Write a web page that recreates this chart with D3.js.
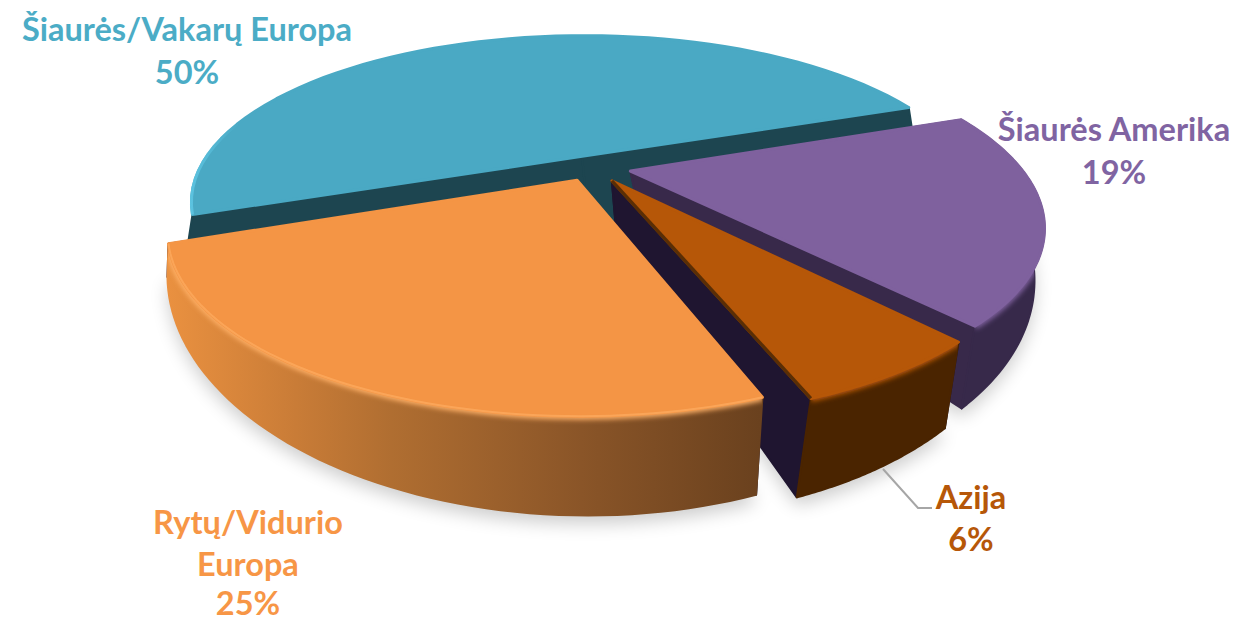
<!DOCTYPE html>
<html>
<head>
<meta charset="utf-8">
<title>Pie</title>
<script src="https://cdn.jsdelivr.net/npm/d3@7"></script>
<style>
  html, body { margin: 0; padding: 0; background: #fff; }
  svg { display: block; }
  text { font-family: Lato, "Open Sans", sans-serif; font-weight: 700; font-size: 32.5px; text-anchor: middle; }
</style>
</head>
<body>
<script>
//chart data, clockwise from the purple slice
var categories = ["Šiaurės Amerika", "Azija", "Rytų/Vidurio Europa", "Šiaurės/Vakarų Europa"];
var shares = [19, 6, 25, 50];
var shareLabels = ["19%", "6%", "25%", "50%"];

var width = 1237, height = 621;

//perspective view of the disc: one plane for the top face, one for the bottom face
var topView = [410.8, -59.4, 591.7, -30.7, 108.7, 167.0, 0.0658, -0.2748];
var botView = [424.9, -77.3, 598.5, -22.3, 147.5, 193.0, 0.0871, -0.2784];
var firstAngle = 84.97 * Math.PI / 180;
var pull = [0.1023, 0.0981, 0.0895, 0.0723];
var tipDrop = [0, 34, 0, 60];
var botShift = [0, 0, 7, 0];

//slice look, same order as the data
var topColor = ["#7f619e", "#b65708", "#f49545", "#4aa9c4"];
var sideColor = ["#38294a", "#1f1530", "#1f1530", "#1d4550"];
var rimColor = ["#37294a", "#4a2400", "url(#rimOrange)", null];
var edgeColor = ["#7f619e", "#b65708", "#ffb066", null];
var labelColor = ["#8064a2", "#b65708", "#f79646", "#4bacc6"];

function project(view, u, v){
    var w = view[6] * u + view[7] * v + 1;
    return [(view[0] * u + view[1] * v + view[2]) / w, (view[3] * u + view[4] * v + view[5]) / w];
}

var arcs = d3.pie().sort(null).startAngle(firstAngle).endAngle(firstAngle + 2 * Math.PI)(shares);

var svg = d3.select("body").append("svg").attr("width", width).attr("height", height);
var defs = svg.append("defs");

function addBlur(id, amount){
    defs.append("filter").attr("id", id)
        .attr("filterUnits", "userSpaceOnUse").attr("x", 0).attr("y", 0).attr("width", width).attr("height", height)
        .append("feGaussianBlur").attr("stdDeviation", amount);
}
addBlur("shadowBlur", 9);
addBlur("edgeBlur", 2.5);

var rimOrange = defs.append("linearGradient").attr("id", "rimOrange")
    .attr("gradientUnits", "userSpaceOnUse").attr("x1", 165).attr("x2", 760).attr("y1", 0).attr("y2", 0);
[[0, "#ea9140"], [0.22, "#c97c37"], [0.38, "#b06e31"], [0.7, "#8a5528"], [1, "#6a411e"]].forEach(function(s){
    rimOrange.append("stop").attr("offset", s[0]).attr("stop-color", s[1]);
});
var blueEdge = defs.append("linearGradient").attr("id", "blueEdge")
    .attr("gradientUnits", "userSpaceOnUse").attr("x1", 190).attr("x2", 240).attr("y1", 0).attr("y2", 0);
[[0, "#5cc3e0", 1], [1, "#5cc3e0", 0]].forEach(function(s){
    blueEdge.append("stop").attr("offset", s[0]).attr("stop-color", s[1]).attr("stop-opacity", s[2]);
});

var line = d3.line();

//work out the outline of each slice
var slices = arcs.map(function(d, i){
    var mid = (d.startAngle + d.endAngle) / 2;
    var du = Math.sin(mid) * pull[i], dv = -Math.cos(mid) * pull[i];
    var plan = d3.range(0, 61).map(function(n){
        var a = d.startAngle + (d.endAngle - d.startAngle) * n / 60;
        return [Math.sin(a) + du, -Math.cos(a) + dv];
    });
    var tipBot = project(botView, du, dv);
    return {
        top: plan.map(function(p){ return project(topView, p[0], p[1]); }),
        bot: plan.map(function(p){
            var q = project(botView, p[0], p[1]);
            return [q[0] + botShift[i], q[1]];
        }),
        tipTop: project(topView, du, dv),
        tipBot: [tipBot[0], tipBot[1] + tipDrop[i]]
    };
});

//soft shadow under the front slices
var shadow = svg.append("g").attr("filter", "url(#shadowBlur)").attr("opacity", 0.2).attr("transform", "translate(0,8)");
[0, 1, 2].forEach(function(i){
    var s = slices[i];
    shadow.append("path").attr("fill", "#000").attr("d", line([s.tipBot].concat(s.bot)) + "Z");
});

//back slice first, front slice last
[3, 0, 1, 2].forEach(function(i){
    var s = slices[i];
    var g = svg.append("g");

    //the two cut faces
    [[s.top[0], s.bot[0]], [s.top[60], s.bot[60]]].forEach(function(end){
        g.append("path").attr("fill", sideColor[i]).attr("stroke", sideColor[i]).attr("stroke-width", 2).attr("stroke-linejoin", "round")
            .attr("d", line([s.tipTop, end[0], end[1], s.tipBot]) + "Z");
    });
    //outer rim with a soft bevel at its top edge, kept inside the rim shape
    if (rimColor[i]){
        var rimPath = line(s.top.concat(s.bot.slice().reverse())) + "Z";
        defs.append("clipPath").attr("id", "rimClip" + i).append("path").attr("d", rimPath);
        g.append("path").attr("fill", rimColor[i]).attr("stroke", rimColor[i]).attr("stroke-width", 2).attr("stroke-linejoin", "round")
            .attr("d", rimPath);
        g.append("g").attr("clip-path", "url(#rimClip" + i + ")")
            .append("path").attr("fill", "none").attr("stroke", edgeColor[i]).attr("stroke-width", 7).attr("filter", "url(#edgeBlur)")
            .attr("d", line(s.top));
    }
    //top face
    g.append("path").attr("fill", topColor[i]).attr("stroke", topColor[i]).attr("stroke-width", 3).attr("stroke-linejoin", "round")
        .attr("d", line([s.tipTop].concat(s.top)) + "Z");
});

//brighter rim on the far left of the blue slice
svg.append("path").attr("fill", "none").attr("stroke", "url(#blueEdge)").attr("stroke-width", 3)
    .attr("d", line(slices[3].top));

//thin lighter edge along the orange arc
svg.append("path").attr("fill", "none").attr("stroke", "#ffb066").attr("stroke-width", 2).attr("opacity", 0.6)
    .attr("d", line(slices[2].top));

//thin dark bevel along the left edge of the brown slice
svg.append("path").attr("fill", "none").attr("stroke", "#5a2e05").attr("stroke-width", 3.5)
    .attr("d", line([slices[1].tipTop, slices[1].top[60]]));

//leader line for the small slice
svg.append("path").attr("fill", "none").attr("stroke", "#a6a6a6").attr("stroke-width", 2)
    .attr("d", line([[883, 469], [918, 508], [932, 508]]));

//labels
var labels = [
    {i: 0, x: 1114, rows: [[categories[0], 141], [shareLabels[0], 184]]},
    {i: 1, x: 971, rows: [[categories[1], 509], [shareLabels[1], 551]]},
    {i: 2, x: 248, rows: [["Rytų/Vidurio", 534], ["Europa", 576], [shareLabels[2], 615]]},
    {i: 3, x: 187, rows: [[categories[3], 41], [shareLabels[3], 84]]}
];
labels.forEach(function(l){
    l.rows.forEach(function(r){
        svg.append("text").attr("x", l.x).attr("y", r[1]).attr("fill", labelColor[l.i]).text(r[0]);
    });
});
</script>
</body>
</html>
